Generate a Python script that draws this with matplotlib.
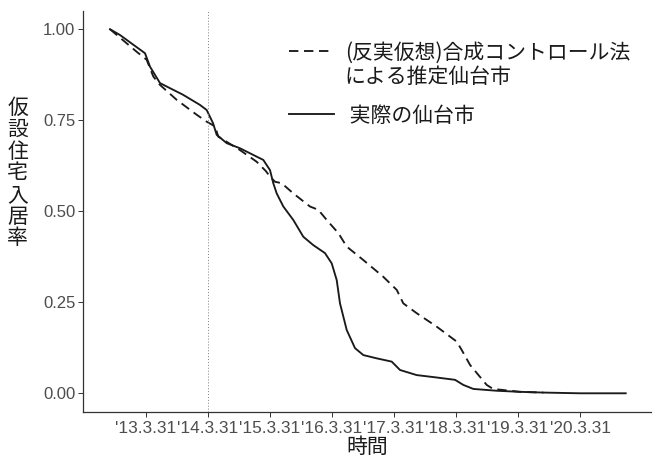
import matplotlib
matplotlib.use("Agg")
import matplotlib.pyplot as plt
from matplotlib.lines import Line2D
from matplotlib.legend_handler import HandlerLine2D

# x: years since 2013-03-31 ; y: occupancy rate of temporary housing
actual_x = [-0.581, -0.419, -0.016, 0.065, 0.226, 0.387, 0.597, 0.871, 0.979, 1.081,
            1.140, 1.302, 1.516, 1.785, 1.892, 2.000, 2.053, 2.108, 2.215, 2.376,
            2.537, 2.698, 2.887, 2.995, 3.076, 3.129, 3.237, 3.371, 3.505, 3.721,
            3.963, 4.097, 4.366, 4.660, 4.984, 5.118, 5.279, 5.656, 6.032, 6.408,
            7.000, 7.737]
actual_y = [1.000, 0.984, 0.934, 0.897, 0.852, 0.838, 0.820, 0.792, 0.778, 0.742,
            0.710, 0.687, 0.673, 0.650, 0.641, 0.613, 0.577, 0.549, 0.513, 0.476,
            0.430, 0.407, 0.385, 0.357, 0.311, 0.247, 0.174, 0.124, 0.105, 0.096,
            0.087, 0.064, 0.050, 0.044, 0.037, 0.023, 0.012, 0.007, 0.004, 0.002,
            0.000, 0.000]

synth_x = [-0.581, -0.150, 0.011, 0.118, 0.226, 0.495, 0.818, 0.979, 1.113, 1.166,
           1.516, 1.785, 1.935, 2.000, 2.081, 2.188, 2.376, 2.645, 2.779, 2.915,
           3.102, 3.237, 3.505, 3.827, 4.044, 4.150, 4.366, 4.689, 5.011, 5.092,
           5.226, 5.495, 5.597, 6.032, 6.408]
synth_y = [1.000, 0.938, 0.916, 0.870, 0.847, 0.806, 0.765, 0.746, 0.733, 0.705,
           0.668, 0.636, 0.610, 0.595, 0.581, 0.577, 0.549, 0.513, 0.504, 0.476,
           0.440, 0.403, 0.366, 0.320, 0.284, 0.247, 0.220, 0.183, 0.142, 0.119,
           0.078, 0.023, 0.012, 0.004, 0.002]

tick_pos = [0, 1, 2, 3, 4, 5, 6, 7]
tick_labels = ["'13.3.31", "'14.3.31", "'15.3.31", "'16.3.31",
               "'17.3.31", "'18.3.31", "'19.3.31", "'20.3.31"]
ytick_pos = [0.0, 0.25, 0.5, 0.75, 1.0]
ytick_labels = ["0.00", "0.25", "0.50", "0.75", "1.00"]
treat_x = 1

label_synth = "(反実仮想)合成コントロール法\nによる推定仙台市"
label_actual = " 実際の仙台市"

CJK = ["Noto Sans CJK JP", "DejaVu Sans"]
LAT = ["Liberation Sans", "DejaVu Sans"]


class ShiftedLine(HandlerLine2D):
    def __init__(self, dy=0.0, **kw):
        super().__init__(**kw)
        self.dy = dy

    def create_artists(self, legend, orig_handle, xdescent, ydescent,
                       width, height, fontsize, trans):
        return super().create_artists(legend, orig_handle, xdescent,
                                      ydescent - 2 * self.dy, width, height,
                                      fontsize, trans)


fig = plt.figure(figsize=(6.6, 4.58), dpi=100)
ax = fig.add_axes([83/660, 1-411.5/458, (651-83)/660, (411.5-11)/458])

line_col = "#1a1a1a"
DASH = (5, 3)
LW = 1.35
ax.plot(synth_x, synth_y, color=line_col, lw=LW, dashes=DASH)
ax.plot(actual_x, actual_y, color=line_col, lw=LW)
ax.axvline(treat_x, color="#808080", lw=0.7, ls=(0, (1, 2)))

ax.set_xlim(-1.016, 8.145)
ax.set_ylim(-0.05, 1.05)
ax.set_xticks(tick_pos)
ax.set_xticklabels(tick_labels, family=LAT, fontsize=12.4, color="#4d4d4d")
ax.set_yticks(ytick_pos)
ax.set_yticklabels(ytick_labels, family=LAT, fontsize=12, color="#4d4d4d")
ax.tick_params(length=3.5, width=0.7, color="#333333", pad=2)
ax.tick_params(axis="x", pad=3)
for s in ["top", "right"]:
    ax.spines[s].set_visible(False)
for s in ["left", "bottom"]:
    ax.spines[s].set_color("#333333")
    ax.spines[s].set_linewidth(0.9)

ax.set_xlabel("時間", family=CJK, fontsize=15, color="#1a1a1a", labelpad=0.5)
ylab = "\n".join("仮設住宅入居率")
ax.set_ylabel(ylab, family=CJK, fontsize=15, color="#1a1a1a", rotation=0,
              linespacing=0.98, va="center", ha="center")
ax.yaxis.set_label_coords(-0.115, 0.595)

h_synth = Line2D([], [], color=line_col, lw=LW, dashes=DASH)
h_actual = Line2D([], [], color=line_col, lw=LW)
leg = ax.legend([h_synth, h_actual], [label_synth, label_actual], loc="upper left",
                bbox_to_anchor=(0.329, 0.97), frameon=False,
                prop={"family": CJK, "size": 15}, handlelength=2.2,
                handletextpad=0.5, labelspacing=0.8,
                handler_map={h_synth: ShiftedLine(dy=11)})
for t in leg.get_texts():
    t.set_color("#1a1a1a")
    t.set_linespacing(1.12)

fig.savefig("out.png", dpi=100)
